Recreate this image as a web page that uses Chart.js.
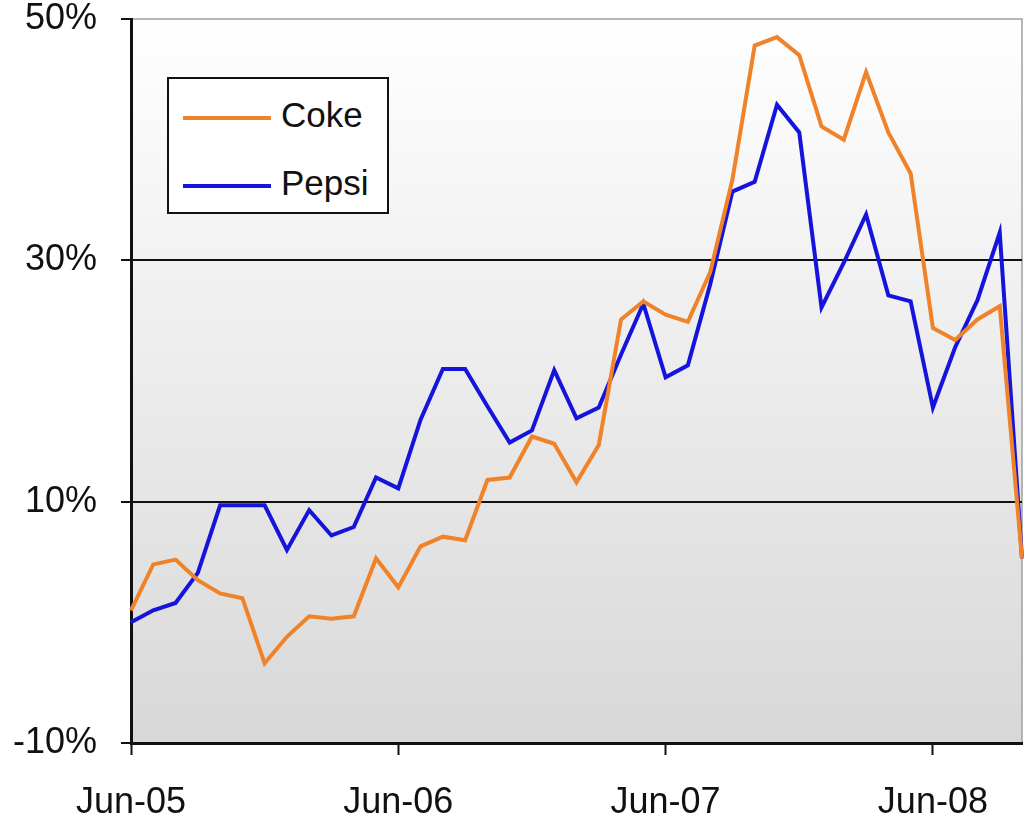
<!DOCTYPE html>
<html>
<head>
<meta charset="utf-8">
<script src="https://cdn.jsdelivr.net/npm/chart.js@4.4.1/dist/chart.umd.min.js"></script>
<style>
  html, body { margin: 0; padding: 0; background: #fff; }
  #wrap { position: relative; width: 1025px; height: 827px; }
  #legend {
    position: absolute; left: 167px; top: 77px; width: 218px; height: 133px;
    border: 2px solid #111; background: #fff;
    font-family: "Liberation Sans", Arial, sans-serif; font-size: 35px; color: #111;
  }
  #legend .item { position: absolute; left: 14px; height: 40px; line-height: 40px; white-space: nowrap; }
  #legend .swatch { display: inline-block; width: 88px; height: 4px; vertical-align: middle; margin-right: 10px; }
</style>
</head>
<body>
<div id="wrap">
  <canvas id="chart" width="1025" height="827"></canvas>
  <div id="legend"></div>
</div>
<script>
// Monthly points, Jun-05 .. Oct-08
const months = [
  "Jun-05","Jul-05","Aug-05","Sep-05","Oct-05","Nov-05","Dec-05",
  "Jan-06","Feb-06","Mar-06","Apr-06","May-06","Jun-06","Jul-06","Aug-06","Sep-06","Oct-06","Nov-06","Dec-06",
  "Jan-07","Feb-07","Mar-07","Apr-07","May-07","Jun-07","Jul-07","Aug-07","Sep-07","Oct-07","Nov-07","Dec-07",
  "Jan-08","Feb-08","Mar-08","Apr-08","May-08","Jun-08","Jul-08","Aug-08","Sep-08","Oct-08"
];

const coke = [
  1.0, 4.8, 5.2, 3.5, 2.4, 2.0, -3.4, -1.2, 0.5, 0.3, 0.5, 5.3, 2.9,
  6.3, 7.1, 6.8, 11.8, 12.0, 15.4, 14.8, 11.6, 14.7, 25.1, 26.6, 25.5,
  24.9, 29.0, 36.7, 47.8, 48.5, 47.0, 41.1, 40.0, 45.6, 40.6, 37.2, 24.4,
  23.4, 25.1, 26.2, 5.3
];

const pepsi = [
  0.0, 1.0, 1.6, 4.1, 9.7, 9.7, 9.7, 6.0, 9.3, 7.2, 7.9, 12.0, 11.1,
  16.8, 21.0, 21.0, 17.9, 14.9, 15.9, 20.9, 16.9, 17.8, 22.2, 26.4, 20.3,
  21.3, 28.0, 35.7, 36.5, 42.9, 40.6, 26.1, 29.8, 33.8, 27.1, 26.6, 17.8,
  22.8, 26.7, 32.3, 5.3
];

const yTicks = [-10, 10, 30, 50];

const FONT = "'Liberation Sans', Arial, sans-serif";

// gradient plot background
const plotBg = {
  id: "plotBg",
  beforeDraw(chart) {
    const { ctx, chartArea: a } = chart;
    const g = ctx.createLinearGradient(0, a.top, 0, a.bottom);
    g.addColorStop(0, "#ffffff");
    g.addColorStop(1, "#d8d8d8");
    ctx.save();
    ctx.fillStyle = g;
    ctx.fillRect(a.left, a.top, a.right - a.left, a.bottom - a.top);
    ctx.strokeStyle = "#a0a0a0";
    ctx.lineWidth = 1.5;
    ctx.beginPath();
    ctx.moveTo(a.left, a.top);
    ctx.lineTo(a.right, a.top);
    ctx.lineTo(a.right, a.bottom);
    ctx.stroke();
    ctx.restore();
  }
};

const chart = new Chart(document.getElementById("chart"), {
  type: "line",
  data: {
    labels: months,
    datasets: [
      { label: "Coke", data: coke, borderColor: "#f0822a", borderWidth: 4, pointRadius: 0, tension: 0 },
      { label: "Pepsi", data: pepsi, borderColor: "#1414dc", borderWidth: 4, pointRadius: 0, tension: 0 }
    ]
  },
  options: {
    responsive: false,
    animation: false,
    layout: { padding: { top: 19, right: 3, left: 0, bottom: 0 } },
    plugins: { legend: { display: false }, tooltip: { enabled: false } },
    scales: {
      x: {
        offset: false,
        grid: {
          offset: false,
          drawOnChartArea: false,
          tickLength: 12,
          tickWidth: 2,
          tickColor: c => (c.index % 12 === 0 ? "#111" : "rgba(0,0,0,0)")
        },
        border: { color: "#111", width: 3 },
        ticks: {
          autoSkip: false,
          maxRotation: 0,
          padding: 26,
          color: "#111",
          font: { family: FONT, size: 36 },
          callback: (v, i) => (i % 12 === 0 ? months[i] : "")
        },
        afterFit: s => { s.height = 84; s.paddingLeft = 0; s.paddingRight = 0; }
      },
      y: {
        min: -10,
        max: 50,
        afterBuildTicks: s => { s.ticks = yTicks.map(v => ({ value: v })); },
        grid: {
          color: c => (c.tick && c.tick.value === 50 ? "rgba(0,0,0,0)" : "#111"),
          lineWidth: 2,
          tickLength: 10,
          tickColor: "#111",
          tickWidth: 2
        },
        border: { color: "#111", width: 3 },
        ticks: {
          padding: 24,
          color: "#111",
          font: { family: FONT, size: 36 },
          callback: v => v + "%"
        },
        afterFit: s => { s.width = 131; s.paddingTop = 0; s.paddingBottom = 0; }
      }
    }
  },
  plugins: [plotBg]
});

// legend box from the datasets
const legendEl = document.getElementById("legend");
chart.data.datasets.forEach((ds, i) => {
  const item = document.createElement("div");
  item.className = "item";
  item.style.top = (16 + i * 68) + "px";
  item.innerHTML = `<span class="swatch" style="background:${ds.borderColor}"></span>${ds.label}`;
  legendEl.appendChild(item);
});
</script>
</body>
</html>
